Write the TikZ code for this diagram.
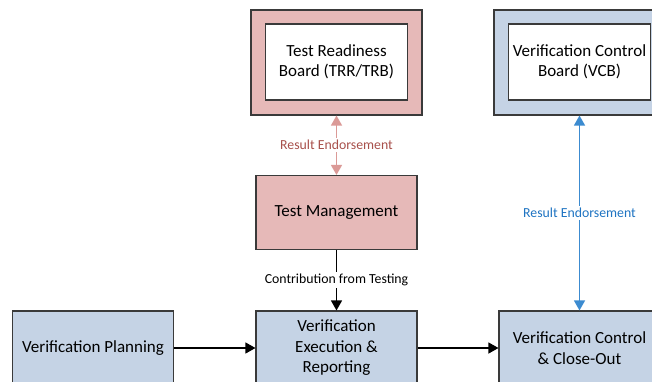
\documentclass[tikz,border=0pt]{standalone}
\usepackage{fontspec}
\setmainfont{Carlito}
\usetikzlibrary{arrows.meta}
\definecolor{pinkfill}{HTML}{E6B9B8}
\definecolor{bluefill}{HTML}{C5D3E5}
\definecolor{boxedge}{HTML}{3A3A3A}
\definecolor{pinkline}{HTML}{DB9A97}
\definecolor{pinktext}{HTML}{A8504B}
\definecolor{blueline}{HTML}{3C8BD0}
\definecolor{bluetext}{HTML}{1F74C2}
\tikzset{
  x=1pt, y=-1pt,
  every node/.style={font=\fontsize{17}{20.5}\selectfont, align=center, inner sep=0pt},
  procbox/.style={draw=boxedge, line width=1.1pt, minimum width=161pt, minimum height=74pt},
  outerbox/.style={draw=boxedge, line width=1.1pt, minimum width=171pt, minimum height=105pt},
  innerbox/.style={draw=boxedge, fill=white, line width=1.1pt, minimum width=142pt, minimum height=76pt},
  small/.style={font=\fontsize{13.8}{16}\selectfont, fill=white, inner sep=2pt},
  tip/.style={-{Triangle[width=11pt,length=10pt]}},
  twotip/.style={{Triangle[width=11pt,length=10pt]}-{Triangle[width=11pt,length=10pt]}},
}
\begin{document}
\begin{tikzpicture}
\useasboundingbox (0,0) rectangle (652,381);
\clip (0,0) rectangle (652,381);

% governance boards
\node[outerbox, fill=pinkfill] (trr) at (336.5,62.5) {};
\node[innerbox] (trrin) at (336.5,62) {Test Readiness\\Board (TRR/TRB)};
\node[outerbox, fill=bluefill] (vcb) at (579.5,62.5) {};
\node[innerbox] (vcbin) at (579.5,62) {Verification Control\\Board (VCB)};

% test management
\node[procbox, fill=pinkfill] (tm) at (336.5,212.5) {Test Management};

% verification process row
\node[procbox, fill=bluefill] (plan) at (93,348) {Verification Planning};
\node[procbox, fill=bluefill] (exec) at (336.5,348) {Verification\\Execution \&\\Reporting};
\node[procbox, fill=bluefill] (close) at (579.5,348) {Verification Control\\\& Close-Out};

% connectors
\draw[twotip, pinkline, line width=1.3pt] (trr.south) -- (tm.north)
  node[midway, small, text=pinktext] {Result Endorsement};
\draw[twotip, blueline, line width=1.3pt] (vcb.south) -- (close.north)
  node[midway, small, text=bluetext] {Result Endorsement};
\draw[tip, black, line width=1.2pt] (tm.south) -- (exec.north)
  node[midway, small, text=black] {Contribution from Testing};
\draw[tip, black, line width=1.2pt] (plan.east) -- (exec.west);
\draw[tip, black, line width=1.2pt] (exec.east) -- (close.west);
\end{tikzpicture}
\end{document}
